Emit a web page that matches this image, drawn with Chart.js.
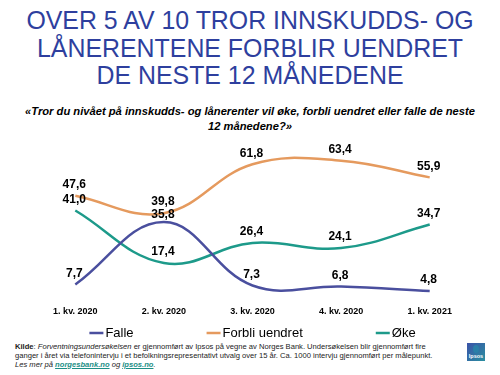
<!DOCTYPE html>
<html>
<head>
<meta charset="utf-8">
<script src="https://cdn.jsdelivr.net/npm/chart.js@4/dist/chart.umd.min.js"></script>
<style>
  html, body { margin: 0; padding: 0; background: #fff; }
  body { width: 500px; height: 375px; position: relative; overflow: hidden; font-family: "Liberation Sans", Arial, sans-serif; }
  #title { position: absolute; top: 7px; left: 0; width: 500px; text-align: center; color: #2E3F9E; font-size: 24.9px; line-height: 27.5px; white-space: nowrap; }
  #subtitle { position: absolute; top: 104px; left: 0; width: 500px; text-align: center; color: #000; font-size: 11.2px; line-height: 15px; font-weight: bold; font-style: italic; white-space: nowrap; }
  #wrap { position: absolute; top: 130px; left: 0; width: 500px; height: 212px; }
  #footer { position: absolute; top: 343px; left: 15px; width: 445px; font-size: 7.6px; line-height: 8.8px; color: #222; white-space: nowrap; }
  #footer a { color: #1D8F86; font-weight: bold; text-decoration: underline; }
  #logo { position: absolute; left: 467px; top: 343px; width: 18px; height: 18px; background: linear-gradient(135deg, #3b52a8, #2a8fa0); color: #fff; font-size: 5.5px; font-weight: bold; text-align: center; }
  #logo i { position: absolute; left: 6px; top: 2px; width: 6px; height: 8px; border-radius: 50%; background: #2a7fa8; }
  #logo span { position: absolute; bottom: 2px; left: 0; width: 18px; }
</style>
</head>
<body>
<div id="title">OVER 5 AV 10 TROR INNSKUDDS- OG<br>LÅNERENTENE FORBLIR UENDRET<br>DE NESTE 12 MÅNEDENE</div>
<div id="subtitle">«Tror du nivået på innskudds- og lånerenter vil øke, forbli uendret eller falle de neste<br>12 månedene?»</div>
<div id="wrap"><canvas id="c" width="500" height="212"></canvas></div>
<div id="footer"><b>Kilde</b>: <i>Forventningsundersøkelsen</i> er gjennomført av Ipsos på vegne av Norges Bank. Undersøkelsen blir gjennomført fire<br>ganger i året via telefonintervju i et befolkningsrepresentativt utvalg over 15 år. Ca. 1000 intervju gjennomført per målepunkt.<br><i>Les mer på <a>norgesbank.no</a> og <a>ipsos.no</a>.</i></div>
<div id="logo"><i></i><span>Ipsos</span></div>
<script>
const categories = ["1. kv. 2020", "2. kv. 2020", "3. kv. 2020", "4. kv. 2020", "1. kv. 2021"];
const falle = [7.7, 35.8, 7.3, 6.8, 4.8];
const forbli = [47.6, 39.8, 61.8, 63.4, 55.9];
const oke = [41.0, 17.4, 26.4, 24.1, 34.7];
const seriesNames = ["Falle", "Forbli uendret", "Øke"];

const FONT = '"Liberation Sans", Arial, sans-serif';

const labelPlugin = {
  id: 'valueLabels',
  afterDatasetsDraw(chart) {
    const ctx = chart.ctx;
    ctx.save();
    ctx.font = 'bold 12px ' + FONT;
    ctx.fillStyle = '#000';
    ctx.textAlign = 'center';
    ctx.textBaseline = 'middle';
    const n = chart.data.labels.length;
    for (let i = 0; i < n; i++) {
      const col = [];
      chart.data.datasets.forEach((ds, di) => {
        const pt = chart.getDatasetMeta(di).data[i];
        col.push({ x: pt.x - 1, y: pt.y - 11, txt: ds.data[i].toFixed(1).replace('.', ',') });
      });
      col.sort((a, b) => a.y - b.y);
      for (let k = 1; k < col.length; k++) {
        if (col[k].y - col[k - 1].y < 13) col[k].y = col[k - 1].y + 13;
      }
      col.forEach(l => ctx.fillText(l.txt, l.x, l.y));
    }
    ctx.restore();
  }
};

const legendPlugin = {
  id: 'spreadLegend',
  afterDraw(chart) {
    const ctx = chart.ctx;
    const gap = 73, marker = 14, mgap = 2;
    ctx.save();
    ctx.font = '13px ' + FONT;
    const items = chart.data.datasets.map(ds => ({ text: ds.label, color: ds.borderColor, w: ctx.measureText(ds.label).width }));
    let total = items.reduce((s, it) => s + marker + mgap + it.w, 0) + gap * (items.length - 1);
    const cx = (chart.chartArea.left + chart.chartArea.right) / 2;
    let x = cx - total / 2;
    const y = 203;
    ctx.textBaseline = 'middle';
    ctx.textAlign = 'left';
    items.forEach(it => {
      ctx.strokeStyle = it.color;
      ctx.lineWidth = 2.5;
      ctx.beginPath();
      ctx.moveTo(x, y);
      ctx.lineTo(x + marker, y);
      ctx.stroke();
      ctx.fillStyle = '#000';
      ctx.fillText(it.text, x + marker + mgap, y);
      x += marker + mgap + it.w + gap;
    });
    ctx.restore();
  }
};

new Chart(document.getElementById('c'), {
  type: 'line',
  data: {
    labels: categories,
    datasets: [
      { label: seriesNames[0], data: falle, borderColor: '#4A4F9E', backgroundColor: '#4A4F9E' },
      { label: seriesNames[1], data: forbli, borderColor: '#E59A5E', backgroundColor: '#E59A5E' },
      { label: seriesNames[2], data: oke, borderColor: '#1D9A8A', backgroundColor: '#1D9A8A' }
    ]
  },
  options: {
    responsive: false,
    animation: false,
    layout: { padding: { left: 31, right: 26, top: 16, bottom: 21.5 } },
    elements: {
      line: { borderWidth: 2.5, tension: 0.4, cubicInterpolationMode: 'default' },
      point: { radius: 0 }
    },
    scales: {
      x: {
        offset: true,
        grid: { display: false, drawTicks: false },
        border: { display: false },
        ticks: { color: '#000', font: { size: 9, weight: 'bold', family: FONT }, padding: 4, maxRotation: 0 }
      },
      y: { display: false, min: 0, max: 70 }
    },
    plugins: {
      legend: { display: false },
      tooltip: { enabled: false }
    }
  },
  plugins: [labelPlugin, legendPlugin]
});
</script>
</body>
</html>
